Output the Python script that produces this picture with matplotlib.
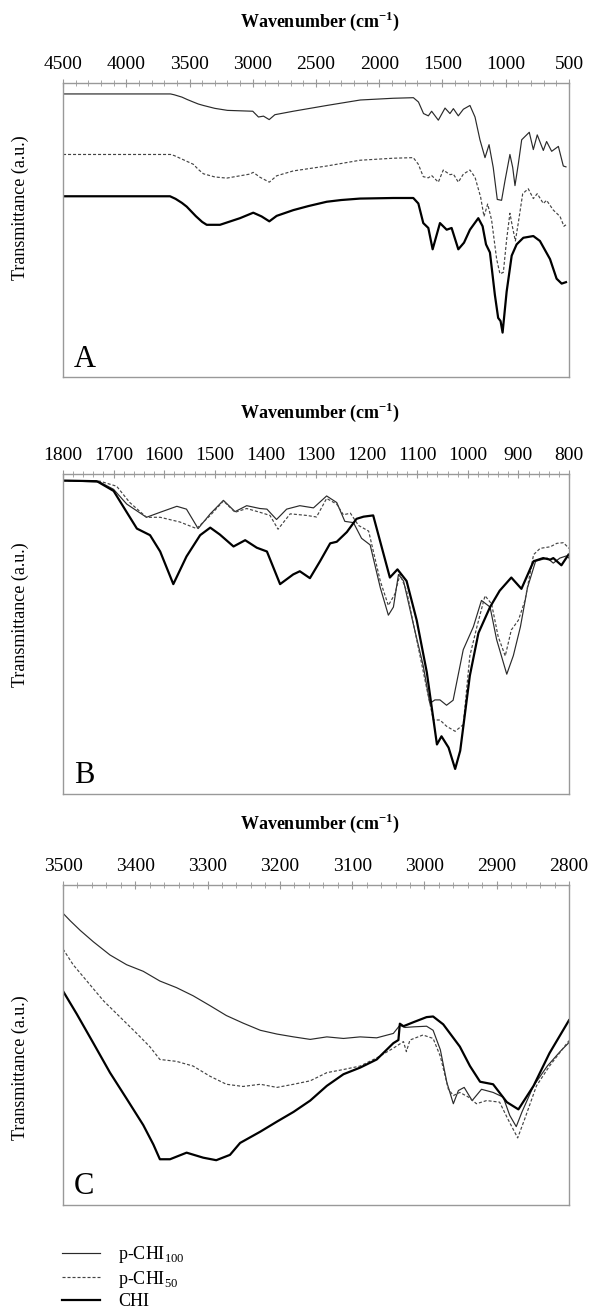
import matplotlib
matplotlib.use('Agg')
import matplotlib.pyplot as plt
from matplotlib.ticker import MultipleLocator

plt.rcParams['font.family'] = ['Liberation Serif', 'DejaVu Serif']
plt.rcParams['mathtext.fontset'] = 'custom'
plt.rcParams['mathtext.rm'] = 'Liberation Serif'
plt.rcParams['mathtext.bf'] = 'Liberation Serif:bold'
plt.rcParams['lines.scale_dashes'] = False

# ---- panel A: full range 4500-500 ----
a_wn_p100 = [4500, 3650, 3620, 3560, 3520, 3470, 3430, 3390, 3300, 3200, 3000, 2955, 2915, 2870,
             2825, 2680, 2415, 2150, 1890, 1730, 1690, 1650, 1612, 1586, 1533, 1480, 1441, 1414,
             1375, 1335, 1283, 1243, 1204, 1164, 1132, 1099, 1067, 1033, 1006, 967, 945, 927,
             901, 874, 814, 782, 751, 703, 677, 637, 584, 545, 524]
a_p100 = [98.2, 98.2, 97.9, 97.1, 96.3, 95.4, 94.7, 94.2, 93.2, 92.5, 92.2, 90.2, 90.5, 89.3,
          91.0, 92.2, 94.2, 96.1, 96.7, 96.9, 95.4, 91.4, 90.6, 92.2, 89.1, 93.3, 91.4, 93.1,
          90.6, 92.9, 94.2, 90.2, 82.3, 76.1, 80.6, 72.7, 61.6, 61.3, 68.1, 77.2, 72.7, 66.4,
          73.8, 82.3, 84.9, 78.9, 84.0, 78.6, 81.7, 78.3, 80.0, 73.2, 72.9]

a_wn_p50 = [4500, 3650, 3620, 3560, 3520, 3470, 3430, 3390, 3300, 3206, 3022, 2996, 2943, 2869,
            2811, 2679, 2415, 2152, 1889, 1731, 1691, 1652, 1612, 1586, 1533, 1494, 1441, 1414,
            1375, 1335, 1283, 1243, 1199, 1172, 1143, 1112, 1072, 1046, 1019, 993, 967, 948,
            924, 901, 866, 822, 782, 751, 703, 677, 624, 571, 540, 524]
a_p50 = [77.2, 77.2, 76.8, 75.6, 74.8, 73.8, 72.0, 70.5, 69.4, 69.0, 70.4, 71.0, 69.3, 67.6,
         69.8, 71.5, 73.2, 75.2, 75.9, 76.1, 73.8, 69.5, 69.1, 69.9, 67.6, 71.8, 70.2, 70.4,
         67.6, 70.4, 71.8, 69.3, 62.5, 55.7, 60.0, 54.5, 40.9, 35.8, 36.3, 47.7, 56.8, 52.3,
         47.2, 53.4, 63.6, 65.3, 61.9, 63.6, 60.2, 61.3, 57.9, 55.7, 52.3, 52.8]

a_wn_chi = [4500, 3654, 3610, 3560, 3522, 3450, 3400, 3364, 3259, 3101, 2996, 2930, 2869, 2811,
            2679, 2560, 2415, 2300, 2152, 1889, 1731, 1691, 1652, 1612, 1578, 1520, 1467, 1428,
            1375, 1330, 1283, 1217, 1183, 1156, 1125, 1086, 1060, 1041, 1025, 993, 953, 914,
            861, 782, 730, 650, 598, 558, 524]
a_chi = [62.7, 62.7, 61.8, 60.4, 59.1, 55.8, 53.8, 52.8, 52.8, 55.1, 57.0, 55.7, 54.0, 55.9,
         57.9, 59.3, 60.8, 61.4, 61.9, 62.1, 62.1, 60.2, 53.4, 51.7, 44.3, 53.4, 51.1, 51.7,
         44.3, 46.6, 51.1, 55.1, 52.3, 46.0, 43.2, 28.5, 20.5, 19.4, 15.4, 29.6, 42.1, 46.0,
         48.3, 48.9, 47.2, 40.9, 34.1, 32.4, 32.9]

# ---- panel B: 1800-800 ----
b_wn_p100 = [1800, 1727, 1700, 1674, 1635, 1608, 1575, 1556, 1533, 1509, 1483, 1460, 1437, 1411,
             1397, 1378, 1358, 1332, 1305, 1279, 1259, 1243, 1226, 1210, 1193, 1173, 1157, 1147,
             1137, 1127, 1108, 1088, 1075, 1065, 1055, 1042, 1029, 1009, 989, 973, 956, 943, 923,
             910, 896, 882, 866, 843, 831, 818, 805, 800]
b_p100 = [99.9, 99.4, 97.1, 92.4, 88.2, 89.8, 91.7, 90.8, 84.6, 89.3, 93.6, 90.0, 91.9, 91.0,
          90.8, 87.5, 90.8, 91.9, 91.2, 95.0, 92.9, 86.9, 86.5, 81.5, 79.4, 65.8, 57.0, 59.6,
          70.0, 67.9, 54.4, 40.8, 28.9, 30.0, 30.0, 28.3, 29.9, 46.0, 53.3, 61.7, 59.6, 49.2, 38.2,
          44.1, 53.3, 65.8, 74.2, 75.2, 73.6, 75.2, 75.9, 75.2]

b_wn_p50 = [1800, 1727, 1694, 1668, 1635, 1608, 1569, 1536, 1509, 1483, 1460, 1437, 1411, 1391,
            1375, 1351, 1319, 1299, 1279, 1259, 1246, 1232, 1216, 1196, 1173, 1157, 1144, 1134,
            1121, 1101, 1081, 1068, 1055, 1042, 1025, 1009, 996, 982, 966, 953, 940, 926, 914,
            900, 887, 870, 857, 837, 824, 811, 800]
b_p50 = [99.9, 99.7, 98.1, 92.9, 88.2, 88.2, 86.7, 84.6, 88.8, 93.4, 89.8, 91.0, 89.8, 88.8,
         84.4, 89.3, 88.8, 88.3, 94.2, 92.4, 89.0, 89.5, 85.6, 83.8, 67.9, 60.1, 63.8, 70.0,
         64.8, 49.2, 33.5, 23.6, 23.6, 21.6, 20.0, 22.1, 44.0, 53.3, 63.2, 60.6, 50.2, 44.0, 52.3,
         55.4, 61.7, 76.3, 78.3, 78.8, 79.9, 80.1, 78.3]

b_wn_chi = [1800, 1733, 1700, 1674, 1654, 1628, 1608, 1582, 1556, 1529, 1509, 1490, 1463, 1440,
            1417, 1397, 1371, 1345, 1332, 1312, 1292, 1272, 1259, 1239, 1220, 1206, 1187, 1173,
            1154, 1139, 1121, 1101, 1081, 1061, 1052, 1038, 1025, 1015, 996, 979, 956, 937, 914,
            894, 870, 851, 837, 831, 815, 801]
b_chi = [99.9, 99.7, 96.6, 89.8, 84.6, 82.5, 77.3, 66.9, 75.7, 82.5, 84.9, 82.7, 78.9, 80.9,
         78.5, 77.3, 66.9, 70.0, 71.0, 68.8, 74.2, 79.9, 80.4, 83.5, 87.7, 88.4, 88.8, 80.4,
         69.0, 71.6, 67.9, 55.4, 38.8, 15.8, 18.4, 14.8, 8.0, 13.8, 37.7, 51.3, 59.6, 64.8, 69.0,
         65.4, 74.2, 75.2, 74.7, 75.2, 72.9, 76.3]

# ---- panel C: 3500-2800 ----
c_wn_p100 = [3500, 3490, 3476, 3458, 3435, 3412, 3389, 3366, 3343, 3320, 3297, 3274, 3251, 3227,
             3204, 3181, 3158, 3135, 3112, 3089, 3066, 3043, 3034, 3027, 3015, 2997, 2988, 2978,
             2969, 2960, 2953, 2945, 2934, 2921, 2905, 2891, 2882, 2873, 2865, 2849, 2830, 2812,
             2800]
c_p100 = [93.0, 90.6, 87.5, 83.9, 79.7, 76.6, 74.5, 71.4, 69.3, 66.7, 63.6, 60.4, 58.0, 55.7,
          54.5, 53.6, 52.8, 53.6, 53.1, 53.6, 53.3, 54.7, 57.3, 56.6, 56.8, 57.0, 55.7, 49.5,
          39.1, 32.3, 36.5, 37.5, 33.3, 36.9, 35.9, 34.4, 28.6, 25.0, 29.7, 38.0, 44.3, 49.0,
          51.8]

c_wn_p50 = [3500, 3486, 3467, 3444, 3421, 3398, 3380, 3366, 3343, 3320, 3297, 3274, 3251, 3227,
            3204, 3181, 3158, 3135, 3112, 3089, 3066, 3043, 3029, 3025, 3020, 3002, 2988, 2978,
            2967, 2960, 2951, 2939, 2928, 2914, 2896, 2885, 2871, 2861, 2845, 2827, 2800]
c_p50 = [81.6, 76.6, 71.4, 65.1, 59.9, 54.7, 50.5, 46.4, 45.8, 44.3, 41.1, 38.5, 37.8, 38.5,
         37.5, 38.5, 39.6, 42.2, 43.2, 44.3, 46.9, 50.0, 52.1, 48.9, 52.6, 54.2, 53.1, 47.4,
         37.0, 34.9, 35.9, 34.4, 32.3, 33.3, 32.8, 27.6, 21.4, 27.6, 38.0, 44.3, 52.4]

c_wn_chi = [3500, 3481, 3458, 3435, 3412, 3389, 3375, 3366, 3352, 3329, 3306, 3288, 3269, 3255,
            3227, 3204, 3181, 3158, 3135, 3112, 3089, 3066, 3043, 3036, 3034, 3029, 3015, 2997,
            2988, 2974, 2951, 2937, 2923, 2905, 2886, 2870, 2849, 2827, 2800]
c_chi = [68.2, 60.9, 51.6, 42.2, 33.9, 25.5, 19.3, 14.6, 14.6, 16.7, 15.1, 14.3, 16.0, 19.8,
         23.4, 26.6, 29.7, 33.3, 38.0, 41.7, 43.8, 46.4, 51.6, 52.6, 57.8, 57.0, 58.3, 59.9,
         60.1, 57.6, 50.5, 44.3, 39.3, 38.5, 32.8, 30.5, 38.0, 48.4, 58.9]

labels = [r'p-CHI$_{\mathrm{100}}$', r'p-CHI$_{\mathrm{50}}$', 'CHI']

panels = [
    ('A', (4500, 500), 500, 100, [(a_wn_p100, a_p100), (a_wn_p50, a_p50), (a_wn_chi, a_chi)],
     [0.1068, 0.7120, 0.8576, 0.2246], 208),
    ('B', (1800, 800), 100, 20, [(b_wn_p100, b_p100), (b_wn_p50, b_p50), (b_wn_chi, b_chi)],
     [0.1068, 0.3934, 0.8576, 0.2445], 615),
    ('C', (3500, 2800), 100, 20, [(c_wn_p100, c_p100), (c_wn_p50, c_p50), (c_wn_chi, c_chi)],
     [0.1068, 0.0794, 0.8576, 0.2445], 1068),
]

styles = [dict(color='#2a2a2a', lw=0.85, ls='-'),
          dict(color='#444444', lw=0.85, ls=(0, (2.2, 1.4))),
          dict(color='black', lw=1.6, ls='-')]

fig = plt.figure(figsize=(5.9, 13.09), dpi=100)

for letter, xlim, major, minor, series, pos, ylab_y in panels:
    ax = fig.add_axes(pos)
    for (x, y), st, lab in zip(series, styles, labels):
        ax.plot(x, y, label=lab, **st)
    ax.set_xlim(*xlim)
    ax.set_ylim(0, 102)
    ax.xaxis.set_major_locator(MultipleLocator(major))
    ax.xaxis.set_minor_locator(MultipleLocator(minor))
    ax.xaxis.tick_top()
    ax.tick_params(axis='x', which='major', direction='inout', length=6, width=0.8,
                   color='#999999', labelsize=14, pad=4)
    ax.tick_params(axis='x', which='minor', direction='inout', length=4, width=0.6,
                   color='#999999')
    ax.set_yticks([])
    for s in ax.spines.values():
        s.set_color('#999999')
        s.set_linewidth(1.0)
    ax.text(0.022, 0.035, letter, transform=ax.transAxes, fontsize=22, ha='left', va='baseline')
    top_px = (1 - (pos[1] + pos[3])) * 1309
    fig.text(320 / 590, 1 - (top_px - 62) / 1309, r'Wavenumber (cm$^{\mathbf{-1}}$)',
             fontsize=13, fontweight='bold', ha='center', va='center')
    fig.text(20 / 590, 1 - ylab_y / 1309, 'Transmittance (a.u.)', rotation=90,
             fontsize=13, ha='center', va='center')

handles = ax.get_lines()
fig.legend(handles, labels, loc='center left', bbox_to_anchor=(62 / 590, 1 - 1277 / 1309),
           frameon=False, fontsize=13, handlelength=2.1, handletextpad=1.0,
           labelspacing=0.2, borderpad=0, borderaxespad=0)

fig.savefig('out.png', dpi=100)
